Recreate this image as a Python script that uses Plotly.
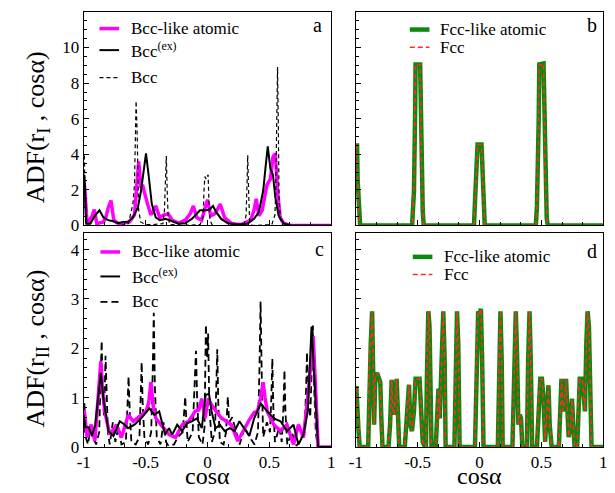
import plotly.graph_objects as go

# ---------------- data ----------------
# panel a : first shell, bcc
a_like_x = [-1.0, -0.992, -0.973, -0.955, -0.934, -0.915, -0.894, -0.87, -0.841, -0.82, -0.802, -0.78, -0.757, -0.73, -0.709,
            -0.67, -0.63, -0.59, -0.571, -0.556, -0.537, -0.525, -0.511, -0.498, -0.484, -0.458, -0.438, -0.418, -0.386,
            -0.352, -0.317, -0.286, -0.233, -0.18, -0.14, -0.114, -0.087, -0.048, -0.021, 0.0, 0.026, 0.058, 0.08, 0.103,
            0.138, 0.19, 0.27, 0.349, 0.376, 0.394, 0.415, 0.442, 0.462, 0.481, 0.508, 0.529, 0.548, 0.566, 0.587, 0.614,
            0.667, 1.0]
a_like_y = [2.5, 2.1, 0.1, 0.3, 0.5, 0.9, 0.1, 0.15, 0.2, 0.5, 1.0, 1.4, 0.3, 0.15, 0.1,
            0.15, 0.2, 0.6, 2.3, 3.6, 2.1, 2.3, 1.9, 1.5, 1.2, 0.6, 0.8, 1.1, 0.45,
            0.6, 0.65, 0.3, 0.13, 0.3, 0.65, 1.1, 0.45, 0.3, 1.0, 1.45, 0.55, 0.65, 0.9, 1.2,
            0.45, 0.13, 0.05, 0.3, 0.85, 1.5, 0.55, 0.85, 1.6, 2.3, 2.6, 3.85, 4.05, 1.95, 0.45, 0.13,
            0.0, 0.0]

a_ex_x = [-1.0, -0.995, -0.979, -0.947, -0.907, -0.873, -0.841, -0.802, -0.762, -0.722, -0.683, -0.643, -0.603, -0.563,
          -0.537, -0.516, -0.497, -0.476, -0.45, -0.418, -0.386, -0.339, -0.307, -0.272, -0.233, -0.18, -0.127, -0.087,
          -0.061, -0.034, -0.008, 0.019, 0.045, 0.071, 0.111, 0.164, 0.243, 0.323, 0.376, 0.415, 0.45, 0.468, 0.487,
          0.508, 0.529, 0.548, 0.574, 0.614, 0.667, 1.0]
a_ex_y = [2.8, 2.85, 0.1, 0.1, 0.57, 0.85, 0.45, 0.3, 0.24, 0.13, 0.2, 0.2, 0.45, 1.0,
          1.95, 3.0, 4.05, 2.85, 1.2, 0.45, 0.3, 0.37, 0.3, 0.2, 0.1, 0.13, 0.37, 0.65,
          0.85, 0.85, 0.85, 0.9, 1.1, 0.75, 0.37, 0.13, 0.05, 0.1, 0.37, 0.75, 1.95, 3.2, 4.45,
          3.2, 2.85, 1.6, 0.57, 0.13, 0.0, 0.0]

a_bcc_x = [-1.0, -0.995, -0.985, -0.9, -0.7, -0.64, -0.624, -0.603, -0.59, -0.577, -0.569, -0.556, -0.54, -0.5, -0.45,
           -0.36, -0.348, -0.34, -0.333, -0.326, -0.318, -0.305, -0.2, -0.06, -0.035, -0.028, -0.021, -0.01, 0.005,
           0.012, 0.02, 0.04, 0.2, 0.3, 0.312, 0.32, 0.325, 0.332, 0.34, 0.36, 0.52, 0.545, 0.552, 0.56, 0.566, 0.572,
           0.578, 0.59, 0.61, 1.0]
a_bcc_y = [3.9, 3.9, 0.0, 0.0, 0.0, 0.1, 0.6, 1.2, 2.3, 7.0, 5.3, 0.85, 0.2, 0.05, 0.05,
           0.1, 0.85, 2.5, 3.9, 2.0, 0.5, 0.05, 0.0, 0.05, 0.5, 2.0, 2.75, 2.6, 2.85,
           1.2, 0.3, 0.0, 0.0, 0.1, 0.6, 2.5, 3.95, 2.0, 0.3, 0.0, 0.05, 0.6, 2.0, 6.0, 8.9, 6.0,
           1.5, 0.3, 0.0, 0.0]

# panel b : first shell, fcc
b_like_x = [-1.0, -0.99, -0.985, -0.975, -0.965, -0.545, -0.53, -0.52, -0.517, -0.48, -0.472, -0.459, -0.451,
            -0.045, -0.037, -0.024, -0.016, 0.016, 0.024, 0.034, 0.042, 0.455, 0.464, 0.478, 0.483, 0.517, 0.53,
            0.543, 0.552, 1.0]
b_like_y = [4.5, 4.5, 2.5, 0.5, 0.0, 0.0, 1.9, 6.6, 9.05, 9.05, 4.6, 0.8, 0.0,
            0.0, 1.3, 3.3, 4.55, 4.55, 3.0, 0.4, 0.0, 0.0, 1.1, 5.9, 9.05, 9.1, 3.3,
            0.4, 0.0, 0.0]
b_fcc_x = [-1.0, -0.99, -0.985, -0.975, -0.965, -0.545, -0.53, -0.52, -0.517, -0.505, -0.495, -0.48, -0.472, -0.459,
           -0.451, -0.045, -0.037, -0.024, -0.016, 0.016, 0.024, 0.034, 0.042, 0.455, 0.464, 0.478, 0.483, 0.5,
           0.517, 0.53, 0.543, 0.552, 1.0]
b_fcc_y = [4.5, 4.5, 2.5, 0.5, 0.0, 0.0, 1.9, 6.6, 9.05, 9.0, 9.0, 9.05, 4.6, 0.8,
           0.0, 0.0, 1.3, 3.3, 4.55, 4.55, 3.0, 0.4, 0.0, 0.0, 1.1, 5.9, 9.05, 9.0,
           9.1, 3.3, 0.4, 0.0, 0.0]

# panel c : second shell, bcc
c_like_x = [-1.0, -0.995, -0.973, -0.94, -0.91, -0.885, -0.87, -0.862, -0.85, -0.83, -0.79, -0.735, -0.695, -0.64, -0.6,
            -0.535, -0.497, -0.475, -0.457, -0.437, -0.417, -0.377, -0.31, -0.258, -0.205, -0.152, -0.1, -0.07, -0.046,
            -0.02, 0.007, 0.033, 0.073, 0.113, 0.152, 0.192, 0.245, 0.298, 0.338, 0.377, 0.404, 0.43, 0.449, 0.465,
            0.483, 0.536, 0.59, 0.642, 0.695, 0.735, 0.775, 0.815, 0.841, 0.854, 0.875, 0.894, 1.0]
c_like_y = [0.75, 0.72, 0.19, 0.45, 0.12, 0.9, 1.58, 1.74, 1.2, 0.72, 0.25, 0.45, 0.19, 0.65, 0.52,
            0.65, 0.72, 0.9, 1.31, 0.8, 0.58, 0.45, 0.25, 0.19, 0.45, 0.52, 0.72, 0.75, 0.98,
            0.58, 0.98, 0.85, 0.72, 0.58, 0.52, 0.45, 0.12, 0.38, 0.55, 0.7, 0.72, 1.0, 1.31, 1.0,
            0.72, 0.45, 0.32, 0.45, 0.05, 0.45, 0.19, 1.11, 1.78, 2.24, 1.11, 0.0, 0.0]

c_ex_x = [-1.0, -0.987, -0.96, -0.934, -0.907, -0.873, -0.862, -0.841, -0.8, -0.76, -0.709, -0.669, -0.642, -0.59,
          -0.536, -0.47, -0.43, -0.39, -0.343, -0.311, -0.285, -0.245, -0.205, -0.166, -0.126, -0.086, -0.046, -0.015,
          0.012, 0.033, 0.065, 0.1, 0.139, 0.179, 0.219, 0.258, 0.298, 0.338, 0.377, 0.43, 0.483, 0.536, 0.59, 0.642,
          0.695, 0.735, 0.775, 0.81, 0.841, 0.868, 0.894, 1.0]
c_ex_y = [0.65, 0.4, 0.4, 0.22, 0.45, 1.25, 1.5, 0.98, 0.32, 0.22, 0.52, 0.45, 0.38, 0.45,
          0.58, 0.78, 0.65, 0.72, 0.25, 0.38, 0.25, 0.45, 0.32, 0.48, 0.52, 0.58, 0.38, 1.05,
          1.08, 0.72, 0.38, 0.45, 0.32, 0.38, 0.32, 0.52, 0.38, 0.22, 0.58, 0.88, 0.72, 0.58, 0.52, 0.32,
          0.45, 0.05, 0.25, 0.72, 2.44, 1.11, 0.0, 0.0]

c_bcc_x = [-1.0, -0.995, -0.985, -0.965, -0.945, -0.925, -0.9, -0.875, -0.864, -0.855, -0.846, -0.835, -0.824, -0.815,
           -0.805, -0.79, -0.765, -0.745, -0.72, -0.695, -0.66, -0.647, -0.638, -0.628, -0.615, -0.58, -0.55, -0.54,
           -0.532, -0.524, -0.51, -0.48, -0.455, -0.443, -0.434, -0.425, -0.41, -0.38, -0.355, -0.335, -0.315, -0.27,
           -0.24, -0.2, -0.188, -0.18, -0.172, -0.16, -0.12, -0.102, -0.093, -0.084, -0.07, -0.04, -0.024, -0.013,
           -0.003, 0.005, 0.015, 0.035, 0.06, 0.071, 0.079, 0.087, 0.1, 0.13, 0.15, 0.164, 0.175, 0.2, 0.26, 0.3, 0.34,
           0.38, 0.408, 0.42, 0.429, 0.438, 0.45, 0.48, 0.505, 0.516, 0.524, 0.532, 0.545, 0.58, 0.6, 0.614, 0.622,
           0.63, 0.645, 0.68, 0.72, 0.76, 0.785, 0.797, 0.804, 0.812, 0.83, 0.845, 0.852, 0.862, 0.875, 0.89, 1.0]
c_bcc_y = [0.3, 0.92, 0.2, 0.05, 0.45, 0.2, 0.05, 0.3, 1.4, 2.15, 1.0, 0.6, 1.85, 1.2,
           0.3, 0.05, 0.5, 0.1, 0.4, 0.05, 0.1, 0.8, 1.43, 0.7, 0.1, 0.05, 0.2, 1.0,
           1.72, 0.9, 0.2, 0.05, 0.3, 1.5, 2.72, 1.2, 0.2, 0.05, 0.5, 0.1, 0.02, 0.05,
           0.2, 0.3, 0.7, 1.02, 0.6, 0.1, 0.3, 1.2, 1.95, 1.0, 0.2, 0.05, 0.4, 2.48,
           1.8, 2.3, 0.8, 0.1, 0.3, 1.2, 1.98, 0.9, 0.1, 0.05, 0.3, 1.02, 0.5, 0.6, 0.05, 0.4, 0.2,
           0.05, 0.3, 1.6, 2.95, 1.5, 0.2, 0.5, 0.3, 1.0, 1.79, 0.8, 0.1, 0.4, 0.1, 0.8, 1.56,
           0.7, 0.05, 0.3, 0.02, 0.2, 0.3, 1.2, 1.92, 1.0, 0.6, 1.8, 2.46, 1.2, 0.3, 0.0, 0.0]

# panel d : second shell, fcc
d_x = [-1.0, -0.995, -0.979, -0.968, -0.9, -0.889, -0.879, -0.868, -0.86, -0.852, -0.842, -0.828, -0.815, -0.802,
       -0.794, -0.784, -0.736, -0.723, -0.71, -0.699, -0.689, -0.67, -0.657, -0.649, -0.604, -0.591, -0.578, -0.57,
       -0.559, -0.546, -0.53, -0.517, -0.485, -0.472, -0.459, -0.441, -0.433, -0.425, -0.414, -0.404, -0.396, -0.388,
       -0.354, -0.34, -0.332, -0.322, -0.309, -0.293, -0.282, -0.274, -0.203, -0.193, -0.182, -0.172, -0.161,
       -0.037, -0.024, -0.011, 0.003, 0.011, 0.021, 0.032, 0.148, 0.158, 0.169, 0.179, 0.187, 0.266, 0.28, 0.293,
       0.303, 0.314, 0.325, 0.335, 0.346, 0.383, 0.393, 0.404, 0.414, 0.425, 0.464, 0.478, 0.491, 0.504, 0.517,
       0.53, 0.546, 0.557, 0.567, 0.583, 0.641, 0.652, 0.662, 0.673, 0.683, 0.699, 0.71, 0.72, 0.736, 0.747, 0.757,
       0.768, 0.789, 0.799, 0.81, 0.831, 0.842, 0.852, 0.863, 0.873, 0.884, 0.894, 0.905, 1.0]
d_like_y = [1.19, 1.19, 0.38, 0.0, 0.0, 1.9, 2.1, 2.75, 1.9, 0.45, 1.44, 1.5, 1.41, 1.31,
            0.6, 0.0, 0.0, 0.45, 1.36, 0.72, 0.65, 1.38, 0.45, 0.0, 0.0, 0.45, 0.91, 1.26,
            0.45, 0.32, 0.72, 1.38, 1.38, 0.72, 0.1, 0.0, 0.0, 1.44, 2.75, 2.44, 0.45, 0.0,
            0.0, 0.72, 1.18, 0.58, 1.77, 2.75, 1.77, 0.0, 0.0, 1.77, 2.75, 2.1, 0.0,
            0.0, 1.9, 2.75, 2.7, 2.8, 1.77, 0.0, 0.0, 1.77, 2.75, 1.77, 0.0, 0.0, 1.77, 2.75,
            1.9, 0.45, 0.65, 0.58, 0.0, 0.0, 1.77, 2.75, 1.77, 0.0, 0.0, 0.98, 1.38, 1.38, 0.98,
            0.1, 0.72, 1.25, 0.45, 0.0, 0.0, 0.72, 1.38, 0.72, 0.85, 1.38, 0.72, 0.2, 0.45, 0.98, 0.45,
            0.0, 0.0, 0.98, 1.38, 1.38, 0.98, 0.72, 2.1, 2.75, 2.44, 1.11, 0.0, 0.0]
d_fcc_y = [1.19, 1.19, 0.38, 0.0, 0.0, 1.9, 2.1, 2.75, 1.9, 0.45, 1.44, 1.5, 1.41, 1.31,
           0.6, 0.0, 0.0, 0.45, 1.36, 0.72, 0.65, 1.38, 0.45, 0.0, 0.0, 0.45, 0.91, 1.26,
           0.45, 0.32, 0.72, 1.38, 1.38, 0.72, 0.1, 0.0, 0.0, 1.44, 2.75, 2.44, 0.45, 0.0,
           0.0, 0.72, 1.18, 0.58, 1.77, 2.75, 1.77, 0.0, 0.0, 1.77, 2.75, 2.1, 0.0,
           0.0, 1.9, 2.75, 2.7, 2.8, 1.77, 0.0, 0.0, 1.77, 2.75, 1.77, 0.0, 0.0, 1.77, 2.75,
           1.9, 0.45, 0.65, 0.58, 0.0, 0.0, 1.77, 2.75, 1.77, 0.0, 0.0, 0.98, 1.38, 1.38, 0.98,
           0.1, 0.72, 1.25, 0.45, 0.0, 0.0, 0.72, 1.38, 0.72, 0.85, 1.38, 0.72, 0.2, 0.45, 0.98, 0.45,
           0.0, 0.0, 0.98, 1.38, 1.38, 0.98, 0.72, 2.1, 2.75, 2.44, 1.11, 0.0, 0.0]

x_tickvals = [-1, -0.5, 0, 0.5, 1]
x_ticktext = ["-1", "-0.5", "0", "0.5", "1"]
y_top_ticks = [0, 2, 4, 6, 8, 10]
y_bot_ticks = [0, 1, 2, 3, 4]

# ---------------- styles ----------------
FONT = "Liberation Serif, Times New Roman, serif"
W, H = 615, 493
MAG = dict(color="#ff00ff", width=3.5)
BLK = dict(color="black", width=2)
DSH_A = dict(color="black", width=1.2, dash="4px,3px")
DSH_C = dict(color="black", width=1.8, dash="7px,4px")
GRN = dict(color="#0a8a0a", width=4.5)
RED = dict(color="#ff2a2a", width=1.5, dash="5px,3px")


def fx(p):
    return p / W


def fy(p):
    return 1 - p / H


fig = go.Figure()
fig.add_trace(go.Scatter(x=a_like_x, y=a_like_y, mode="lines", line=MAG, xaxis="x", yaxis="y"))
fig.add_trace(go.Scatter(x=a_bcc_x, y=a_bcc_y, mode="lines", line=DSH_A, xaxis="x", yaxis="y"))
fig.add_trace(go.Scatter(x=a_ex_x, y=a_ex_y, mode="lines", line=BLK, xaxis="x", yaxis="y"))
fig.add_trace(go.Scatter(x=b_like_x, y=b_like_y, mode="lines", line=GRN, xaxis="x2", yaxis="y2"))
fig.add_trace(go.Scatter(x=b_fcc_x, y=b_fcc_y, mode="lines", line=RED, xaxis="x2", yaxis="y2"))
fig.add_trace(go.Scatter(x=c_bcc_x, y=c_bcc_y, mode="lines", line=DSH_C, xaxis="x3", yaxis="y3"))
fig.add_trace(go.Scatter(x=c_like_x, y=c_like_y, mode="lines", line=MAG, xaxis="x3", yaxis="y3"))
fig.add_trace(go.Scatter(x=c_ex_x, y=c_ex_y, mode="lines", line=BLK, xaxis="x3", yaxis="y3"))
fig.add_trace(go.Scatter(x=d_x, y=d_like_y, mode="lines", line=GRN, xaxis="x4", yaxis="y4"))
fig.add_trace(go.Scatter(x=d_x, y=d_fcc_y, mode="lines", line=RED, xaxis="x4", yaxis="y4"))

left_dom = [fx(70), fx(322)]
right_dom = [fx(347), fx(599)]
top_dom = [fy(222), fy(4)]
bot_dom = [fy(448), fy(230)]

tickfont = dict(family=FONT, size=17, color="black")


def xax(domain, anchor, labels):
    return dict(domain=domain, anchor=anchor, range=[-1, 1], showline=True, linecolor="black", linewidth=1,
                mirror=True, ticks="inside", ticklen=5, tickcolor="black", tickvals=x_tickvals,
                ticktext=x_ticktext, showticklabels=labels, tickfont=tickfont, showgrid=False, zeroline=False,
                minor=dict(dtick=1 / 6, tick0=-1, ticks="inside", ticklen=3, tickcolor="black", showgrid=False))


def yax(domain, anchor, rng, ticks, mdt, labels):
    return dict(domain=domain, anchor=anchor, range=rng, showline=True, linecolor="black", linewidth=1,
                mirror=True, ticks="inside", ticklen=5, tickcolor="black", tickvals=ticks,
                showticklabels=labels, tickfont=tickfont, showgrid=False, zeroline=False,
                minor=dict(dtick=mdt, tick0=0, ticks="inside", ticklen=3, tickcolor="black", showgrid=False))


fig.update_layout(
    width=W, height=H, margin=dict(l=0, r=0, t=0, b=0), showlegend=False,
    plot_bgcolor="white", paper_bgcolor="white",
    xaxis=xax(left_dom, "y", False),
    yaxis=yax(top_dom, "x", [0, 12], y_top_ticks, 0.5, True),
    xaxis2=xax(right_dom, "y2", False),
    yaxis2=yax(top_dom, "x2", [0, 12], y_top_ticks, 0.5, False),
    xaxis3=xax(left_dom, "y3", True),
    yaxis3=yax(bot_dom, "x3", [0, 4.33], y_bot_ticks, 0.2, True),
    xaxis4=xax(right_dom, "y4", True),
    yaxis4=yax(bot_dom, "x4", [0, 4.33], y_bot_ticks, 0.2, False),
)

annots = []
shapes = []


def text(xp, yp, s, size, xanchor="left", angle=0):
    annots.append(dict(x=fx(xp), y=fy(yp), xref="paper", yref="paper", text=s, showarrow=False,
                       xanchor=xanchor, yanchor="middle", textangle=angle,
                       font=dict(family=FONT, size=size, color="black")))


def sample(x0, x1, yp, line):
    shapes.append(dict(type="line", xref="paper", yref="paper", x0=fx(x0), x1=fx(x1), y0=fy(yp), y1=fy(yp),
                       line=line))


# axis titles
text(22, 122, "ADF(r<sub>I</sub> , cosα)", 26, "center", -90)
text(22, 348, "ADF(r<sub>II</sub> , cosα)", 26, "center", -90)
text(196, 478, "cosα", 24, "center")
text(473, 478, "cosα", 24, "center")

# panel letters
text(308, 17, "a", 20, "center")
text(588, 17, "b", 20, "center")
text(310, 246, "c", 20, "center")
text(587, 248, "d", 20, "center")

# legend a
sample(86, 106, 21, MAG); text(116, 21, "Bcc-like atomic", 17)
sample(86, 106, 43, BLK); text(116, 43, "Bcc<sup>(ex)</sup>", 17)
sample(86, 106, 71, DSH_A); text(116, 71, "Bcc", 17)
# legend b
sample(402, 422, 22, GRN); text(431, 22, "Fcc-like atomic", 17)
sample(402, 422, 40, RED); text(431, 40, "Fcc", 17)
# legend c
sample(87, 107, 249, MAG); text(117, 249, "Bcc-like atomic", 17)
sample(87, 107, 274, BLK); text(117, 274, "Bcc<sup>(ex)</sup>", 17)
sample(87, 107, 300, DSH_C); text(117, 300, "Bcc", 17)
# legend d
sample(405, 425, 254, GRN); text(435, 254, "Fcc-like atomic", 17)
sample(405, 425, 272, RED); text(435, 272, "Fcc", 17)

fig.update_layout(annotations=annots, shapes=shapes)
fig.write_html("out.html")
